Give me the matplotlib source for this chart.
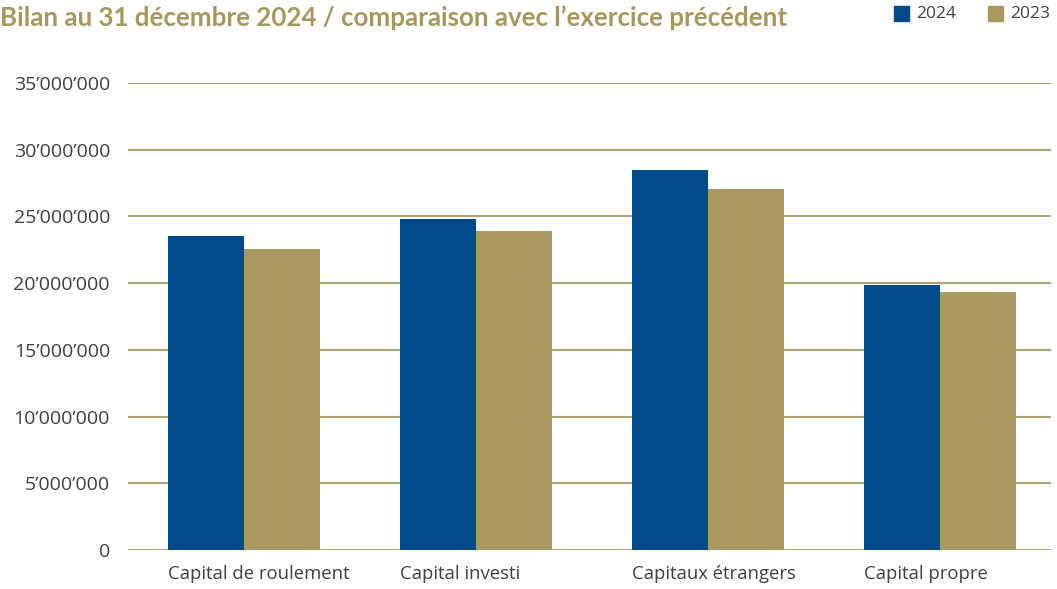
import numpy as np
import matplotlib.pyplot as plt
from matplotlib.ticker import FuncFormatter
from matplotlib.patches import Rectangle

# Données
categories = ['Capital de roulement', 'Capital investi', 'Capitaux étrangers', 'Capital propre']
valeurs_2024 = [23.5e6, 24.8e6, 28.5e6, 19.85e6]
valeurs_2023 = [22.55e6, 23.9e6, 27.05e6, 19.35e6]
annees = ['2024', '2023']

bleu = '#004A8A'
or_ = '#AA9A62'
gris = '#404040'

plt.rcParams['font.family'] = ['Open Sans', 'DejaVu Sans']

fig = plt.figure(figsize=(10.57, 5.89), dpi=100)
ax = fig.add_axes([128 / 1057, 1 - 550 / 589, 923 / 1057, (550 - 83) / 589])

x = np.arange(len(categories))
largeur = 0.327
ax.bar(x - largeur / 2, valeurs_2024, largeur, color=bleu, zorder=3)
ax.bar(x + largeur / 2, valeurs_2023, largeur, color=or_, zorder=3)

ax.set_xlim(-0.5, len(categories) - 0.52)
ax.set_ylim(0, 35e6)
ax.set_yticks(np.arange(0, 35e6 + 1, 5e6))
ax.yaxis.set_major_formatter(FuncFormatter(lambda v, p: f'{int(v):,}'.replace(',', '\u2019')))
ax.tick_params(axis='y', length=0, pad=13, labelsize=14, labelcolor=gris)
ax.grid(axis='y', color='#B0A272', linewidth=1.5, zorder=0)
for s in ax.spines.values():
    s.set_visible(False)

# étiquettes des catégories alignées à gauche sur la première barre
ax.set_xticks([])
for i, cat in enumerate(categories):
    ax.text(i - largeur, -1.1e6, cat, ha='left', va='top', fontsize=13.3, color=gris)

fig.text(0.0, 1 - 18 / 589, 'Bilan au 31 décembre 2024 / comparaison avec l\u2019exercice précédent',
         ha='left', va='center', fontsize=18.6, fontweight='bold', color='#A8975D',
         family=['Lato', 'DejaVu Sans'])

# légende
for px, couleur, lab in [(894, bleu, annees[0]), (988, or_, annees[1])]:
    fig.patches.append(Rectangle((px / 1057, 1 - 21 / 589), 15 / 1057, 15 / 589,
                                 transform=fig.transFigure, color=couleur))
    fig.text((px + 22) / 1057, 1 - 14 / 589, lab, ha='left', va='center', fontsize=12.5, color=gris)

fig.savefig('out.png', dpi=100)
